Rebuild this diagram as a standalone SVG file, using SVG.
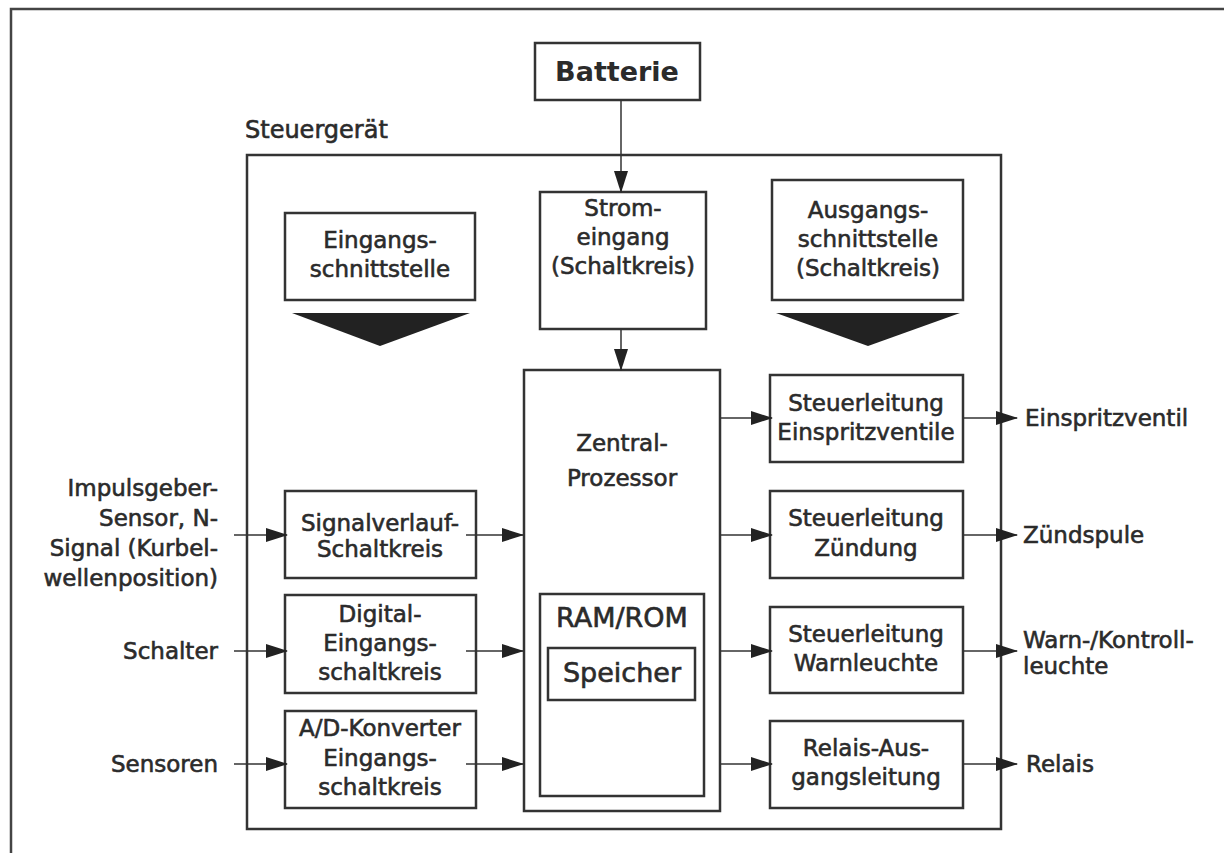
<svg xmlns="http://www.w3.org/2000/svg" width="1224" height="853" viewBox="0 0 1224 853">
<defs>
<style>
.box{fill:#fff;stroke:#333;stroke-width:2.5}
.frame{fill:none;stroke:#444;stroke-width:2.5}
.t{font-family:"DejaVu Sans","Liberation Sans",sans-serif;font-size:23px;fill:#2b2b2b;stroke:#2b2b2b;stroke-width:0.6;text-anchor:middle}
.l{text-anchor:start}
.r{text-anchor:end}
.big{font-size:27px}
.conn line{stroke:#333;stroke-width:1.5;marker-end:url(#ah)}
.tri{fill:#222}
</style>
<marker id="ah" markerUnits="userSpaceOnUse" markerWidth="22" markerHeight="14" refX="21" refY="7" orient="auto">
<path d="M0,0 L22,7 L0,14 z" fill="#222"/>
</marker>
</defs>
<rect width="1224" height="853" fill="#fff"/>
<path class="frame" d="M11,853 V9 H1224"/>

<g id="batterie">
<rect class="box" x="535" y="43" width="165" height="57"/>
<text class="t big" x="617" y="81" style="font-weight:bold;stroke-width:0">Batterie</text>
</g>

<g id="steuergeraet">
<text class="t l" x="245" y="138" style="font-size:24px">Steuergerät</text>
<rect class="box" x="247" y="155" width="754" height="674" style="fill:none"/>
</g>

<g id="eingangsschnittstelle">
<rect class="box" x="285" y="213" width="190" height="87"/>
<text class="t" x="380" y="248">Eingangs-</text>
<text class="t" x="380" y="277">schnittstelle</text>
<polygon class="tri" points="292,313 470,313 380,346"/>
</g>

<g id="stromeingang">
<rect class="box" x="540" y="192" width="166" height="137"/>
<text class="t" x="623" y="216">Strom-</text>
<text class="t" x="623" y="245">eingang</text>
<text class="t" x="623" y="274">(Schaltkreis)</text>
</g>

<g id="ausgangsschnittstelle">
<rect class="box" x="772" y="180" width="191" height="120"/>
<text class="t" x="868" y="218">Ausgangs-</text>
<text class="t" x="868" y="247">schnittstelle</text>
<text class="t" x="868" y="276">(Schaltkreis)</text>
<polygon class="tri" points="776,313 960,313 868,346"/>
</g>

<g id="prozessor">
<rect class="box" x="524" y="370" width="196" height="441"/>
<text class="t" x="622" y="451">Zentral-</text>
<text class="t" x="622" y="486">Prozessor</text>
</g>

<g id="ramrom">
<rect class="box" x="540" y="594" width="164" height="202"/>
<text class="t big" x="622" y="627">RAM/ROM</text>
</g>

<g id="speicher">
<rect class="box" x="548" y="648" width="147" height="52"/>
<text class="t big" x="622" y="682">Speicher</text>
</g>

<g id="signalverlauf">
<rect class="box" x="285" y="491" width="191" height="87"/>
<text class="t" x="380" y="531">Signalverlauf-</text>
<text class="t" x="380" y="557">Schaltkreis</text>
</g>

<g id="digital">
<rect class="box" x="285" y="595" width="191" height="98"/>
<text class="t" x="380" y="622">Digital-</text>
<text class="t" x="380" y="651">Eingangs-</text>
<text class="t" x="380" y="680">schaltkreis</text>
</g>

<g id="adkonverter">
<rect class="box" x="285" y="711" width="191" height="97"/>
<text class="t" x="380" y="736">A/D-Konverter</text>
<text class="t" x="380" y="766">Eingangs-</text>
<text class="t" x="380" y="795">schaltkreis</text>
</g>

<g id="out-einspritz">
<rect class="box" x="770" y="375" width="193" height="87"/>
<text class="t" x="866" y="411">Steuerleitung</text>
<text class="t" x="866" y="440">Einspritzventile</text>
</g>

<g id="out-zuendung">
<rect class="box" x="770" y="491" width="193" height="87"/>
<text class="t" x="866" y="526">Steuerleitung</text>
<text class="t" x="866" y="556">Zündung</text>
</g>

<g id="out-warn">
<rect class="box" x="770" y="607" width="193" height="86"/>
<text class="t" x="866" y="642">Steuerleitung</text>
<text class="t" x="866" y="671">Warnleuchte</text>
</g>

<g id="out-relais">
<rect class="box" x="770" y="721" width="193" height="87"/>
<text class="t" x="866" y="756">Relais-Aus-</text>
<text class="t" x="866" y="785">gangsleitung</text>
</g>

<g id="in-impuls">
<text class="t r" x="218" y="496">Impulsgeber-</text>
<text class="t r" x="218" y="526">Sensor, N-</text>
<text class="t r" x="218" y="556">Signal (Kurbel-</text>
<text class="t r" x="218" y="586">wellenposition)</text>
</g>
<g id="in-schalter"><text class="t r" x="218" y="659">Schalter</text></g>
<g id="in-sensoren"><text class="t r" x="218" y="772">Sensoren</text></g>

<g id="ext-einspritz"><text class="t l" x="1025" y="426">Einspritzventil</text></g>
<g id="ext-zuendspule"><text class="t l" x="1023" y="543">Zündspule</text></g>
<g id="ext-warn">
<text class="t l" x="1023" y="648">Warn-/Kontroll-</text>
<text class="t l" x="1023" y="674">leuchte</text>
</g>
<g id="ext-relais"><text class="t l" x="1026" y="772">Relais</text></g>

<g id="connectors" class="conn">
<line x1="621" y1="100" x2="621" y2="192"/>
<line x1="621" y1="329" x2="621" y2="370"/>
<line x1="234" y1="535" x2="287" y2="535"/>
<line x1="234" y1="651" x2="287" y2="651"/>
<line x1="234" y1="764" x2="287" y2="764"/>
<line x1="466" y1="535" x2="523" y2="535"/>
<line x1="466" y1="651" x2="523" y2="651"/>
<line x1="466" y1="764" x2="523" y2="764"/>
<line x1="720" y1="418" x2="772" y2="418"/>
<line x1="720" y1="535" x2="772" y2="535"/>
<line x1="720" y1="651" x2="772" y2="651"/>
<line x1="720" y1="764" x2="772" y2="764"/>
<line x1="963" y1="418" x2="1017" y2="418"/>
<line x1="963" y1="535" x2="1017" y2="535"/>
<line x1="963" y1="651" x2="1017" y2="651"/>
<line x1="963" y1="764" x2="1017" y2="764"/>
</g>
</svg>
